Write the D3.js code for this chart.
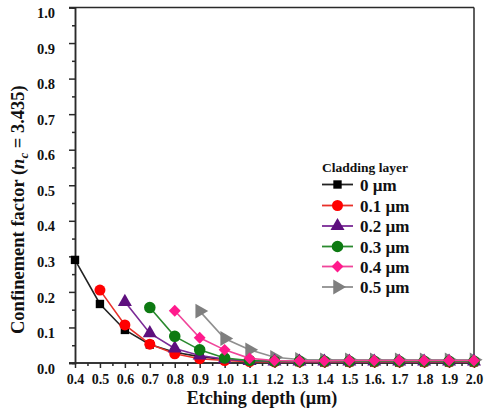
<!DOCTYPE html>
<html>
<head>
<meta charset="utf-8">
<script src="https://cdn.jsdelivr.net/npm/d3@7"></script>
<style>
  html, body { margin: 0; padding: 0; background: #fff; }
  svg { display: block; }
  text { font-family: "Liberation Serif", "Times New Roman", serif; font-weight: bold; fill: #111; }
</style>
</head>
<body>
<svg id="chart" width="487" height="416"></svg>
<script>
// Etching depth (µm) at each sample point
const depths = [0.4, 0.5, 0.6, 0.7, 0.8, 0.9, 1.0, 1.1, 1.2, 1.3, 1.4, 1.5, 1.6, 1.7, 1.8, 1.9, 2.0];
const xTickLabels = ["0.4", "0.5", "0.6", "0.7", "0.8", "0.9", "1.0", "1.1", "1.2", "1.3", "1.4", "1.5", "1.6.", "1.7", "1.8", "1.9", "2.0"];
const yTicks = [0.0, 0.1, 0.2, 0.3, 0.4, 0.5, 0.6, 0.7, 0.8, 0.9, 1.0];

// Confinement factor per cladding layer thickness; each curve starts at its own depth
const clad0 = [0.290, 0.166, 0.093, 0.052, 0.030, 0.018, 0.010, 0.006, 0.004, 0.003, 0.002, 0.002, 0.002, 0.002, 0.002, 0.002, 0.002];
const clad1 = [0.205, 0.107, 0.053, 0.026, 0.012, 0.007, 0.004, 0.003, 0.003, 0.003, 0.003, 0.003, 0.003, 0.003, 0.003, 0.003];
const clad2 = [0.172, 0.084, 0.041, 0.021, 0.011, 0.006, 0.004, 0.004, 0.004, 0.004, 0.004, 0.004, 0.004, 0.004, 0.004];
const clad3 = [0.156, 0.075, 0.037, 0.014, 0.007, 0.005, 0.005, 0.005, 0.005, 0.005, 0.005, 0.005, 0.005, 0.005];
const clad4 = [0.147, 0.071, 0.037, 0.013, 0.007, 0.006, 0.006, 0.007, 0.007, 0.007, 0.007, 0.007, 0.007];
const clad5 = [0.146, 0.069, 0.037, 0.016, 0.010, 0.009, 0.009, 0.009, 0.009, 0.009, 0.009, 0.009];

const seriesNames = ["0 \u00b5m", "0.1 \u00b5m", "0.2 \u00b5m", "0.3 \u00b5m", "0.4 \u00b5m", "0.5 \u00b5m"];
const seriesStart = [0.4, 0.5, 0.6, 0.7, 0.8, 0.9];
const seriesValues = [clad0, clad1, clad2, clad3, clad4, clad5];

const styles = [
  { color: "#000000", line: "#222222", symbol: d3.symbolSquare, size: 70, rotate: 0 },
  { color: "#ff0000", line: "#e8302a", symbol: d3.symbolCircle, size: 95, rotate: 0 },
  { color: "#5e0f7e", line: "#7a2a96", symbol: d3.symbolTriangle, size: 85, rotate: 0 },
  { color: "#0d7a12", line: "#2a8a2e", symbol: d3.symbolCircle, size: 105, rotate: 0 },
  { color: "#ff1a8c", line: "#f0459a", symbol: d3.symbolSquare, size: 70, rotate: 45 },
  { color: "#7f7f7f", line: "#8f8f8f", symbol: d3.symbolTriangle, size: 95, rotate: 90 }
];

const svg = d3.select("#chart");
const x0 = 75, x1 = 474, y0 = 363, y1 = 7.5;
const x = d3.scaleLinear().domain([0.4, 2.0]).range([x0, x1]);
const y = d3.scaleLinear().domain([0, 1.0]).range([y0, y1]);

const axisColor = "#2a2a2a";

// frame: top and right edges
svg.append("line").attr("x1", x0 - 6).attr("x2", x1).attr("y1", y1).attr("y2", y1)
  .attr("stroke", axisColor).attr("stroke-width", 1.5);
svg.append("line").attr("x1", x1).attr("x2", x1).attr("y1", y1).attr("y2", y0)
  .attr("stroke", axisColor).attr("stroke-width", 1.5);

// y axis with major (0.1) and minor (0.05) ticks
const yMinor = d3.range(0.05, 1.0, 0.1);
const yAxisG = svg.append("g").attr("transform", `translate(${x0},0)`)
  .call(d3.axisLeft(y).tickValues(yTicks).tickFormat(d3.format(".1f")).tickSize(6).tickPadding(14));
yAxisG.append("g").call(d3.axisLeft(y).tickValues(yMinor).tickFormat("").tickSize(3));
yAxisG.selectAll("path.domain").attr("stroke", axisColor).attr("stroke-width", 1.5);
yAxisG.selectAll(".tick line").attr("stroke", axisColor).attr("stroke-width", 1.5);
yAxisG.selectAll(".tick text").attr("font-size", 14.5).attr("dy", "0.7em")
  .style("font-family", "Liberation Serif").style("font-weight", "bold").attr("fill", "#111");

// x axis with ticks every 0.05
const xMinor = d3.range(0.45, 2.0, 0.1);
const xAxisG = svg.append("g").attr("transform", `translate(0,${y0})`)
  .call(d3.axisBottom(x).tickValues(depths).tickFormat((d, i) => xTickLabels[i]).tickSize(5).tickPadding(6));
xAxisG.append("g").call(d3.axisBottom(x).tickValues(xMinor).tickFormat("").tickSize(3));
xAxisG.selectAll("path.domain").attr("stroke", axisColor).attr("stroke-width", 1.5)
  .attr("d", `M${x0 - 6},0H${x1}`);
xAxisG.selectAll(".tick line").attr("stroke", axisColor).attr("stroke-width", 1.5);
xAxisG.selectAll(".tick text").attr("font-size", 14)
  .style("font-family", "Liberation Serif").style("font-weight", "bold").attr("fill", "#111");

// axis titles
svg.append("text").attr("x", 262).attr("y", 404).attr("text-anchor", "middle")
  .attr("font-size", 18).text("Etching depth (\u00b5m)");

const yTitle = svg.append("text").attr("transform", `translate(24,334) rotate(-90)`)
  .attr("text-anchor", "start").attr("font-size", 18.5);
yTitle.append("tspan").text("Confinement factor (");
yTitle.append("tspan").attr("font-style", "italic").text("n");
yTitle.append("tspan").attr("font-style", "italic").attr("font-size", 13).attr("dy", 4).text("c");
yTitle.append("tspan").attr("dy", -4).text(" = 3.435)");

// curves
const lineGen = d3.line().x(d => x(d[0])).y(d => y(d[1]));
const drawOrder = [5, 0, 1, 2, 3, 4];
const plot = svg.append("g");
drawOrder.forEach(si => {
  const st = styles[si];
  const startIdx = depths.indexOf(seriesStart[si]);
  const pts = seriesValues[si].map((v, i) => [depths[startIdx + i], v]);
  const g = plot.append("g");
  g.append("path").datum(pts).attr("d", lineGen).attr("fill", "none")
    .attr("stroke", st.line).attr("stroke-width", 1.6);
  g.selectAll("path.m").data(pts).join("path").attr("class", "m")
    .attr("d", d3.symbol().type(st.symbol).size(st.size))
    .attr("transform", d => `translate(${x(d[0])},${y(d[1])}) rotate(${st.rotate})`)
    .attr("fill", st.color);
});

// legend
const lg = svg.append("g").attr("transform", "translate(322,0)");
lg.append("text").attr("x", 0).attr("y", 172).attr("font-size", 13.5).text("Cladding layer");
const legendY = [184.5, 205.5, 226, 246.5, 266.5, 287];
seriesNames.forEach((name, i) => {
  const st = styles[i];
  const cy = legendY[i];
  lg.append("line").attr("x1", 0).attr("x2", 31).attr("y1", cy).attr("y2", cy)
    .attr("stroke", st.line).attr("stroke-width", 1.8);
  lg.append("path").attr("d", d3.symbol().type(st.symbol).size(st.size))
    .attr("transform", `translate(15.5,${cy}) rotate(${st.rotate})`).attr("fill", st.color);
  lg.append("text").attr("x", 38).attr("y", cy + 6).attr("font-size", 17).text(name);
});
</script>
</body>
</html>
